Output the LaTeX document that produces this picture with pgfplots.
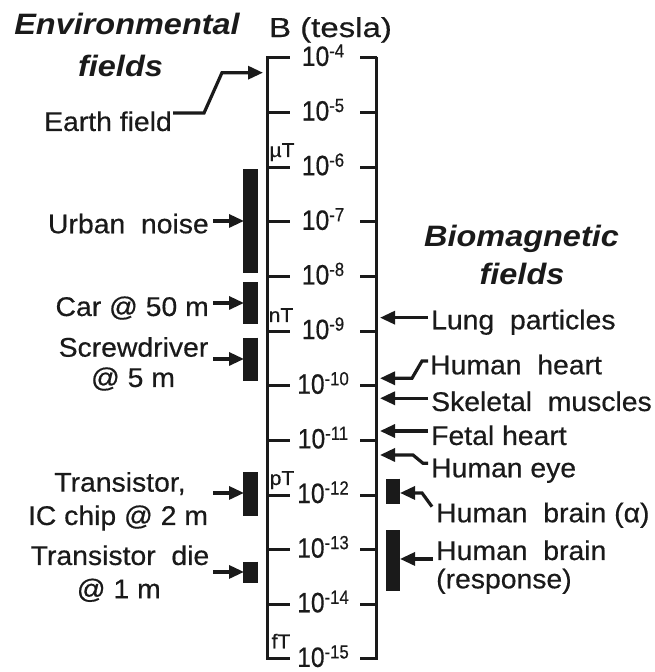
\documentclass[border=0pt]{standalone}
\usepackage{fontspec}
\setmainfont{Liberation Sans}
\newfontfamily\labfont{Liberation Sans}[FakeStretch=1.05, FakeBold=0.5]
\newfontfamily\titfont{Liberation Sans}[FakeStretch=1.1]
\newfontfamily\tickfont{Liberation Sans}[FakeStretch=0.88, FakeBold=0.5]
\newfontfamily\bfont{Liberation Sans}[FakeStretch=1.2, FakeBold=0.5]
\usepackage{pgfplots}
\pgfplotsset{compat=1.18}
\usetikzlibrary{arrows.meta}
\definecolor{ink}{HTML}{1A1A1A}
\tikzset{
  myarr/.style={line width=3.2pt, line join=miter, -{Triangle[length=15pt,width=13pt]}},
  mylab/.style={font=\labfont\fontsize{27}{27}\selectfont, text=ink, inner sep=0pt},
  mytit/.style={font=\titfont\bfseries\itshape\fontsize{29.5}{29.5}\selectfont, text=ink, inner sep=0pt, anchor=base},
  myunit/.style={font=\labfont\fontsize{20}{20}\selectfont, text=ink, inner sep=0pt, anchor=base},
}
\begin{document}
\begin{tikzpicture}
\useasboundingbox (0,0) rectangle (654pt,672pt);
\begin{axis}[at={(0,0)}, anchor=south west, scale only axis, width=654pt, height=672pt,
  xmin=0, xmax=654, ymin=-15.238, ymax=-2.9385, axis lines=none, ticks=none, clip=false,
  every axis plot/.append style={ink},
]
% scale
\addplot[line width=3pt] coordinates {(267,-3.975) (267,-15.025)};
\addplot[line width=3pt] coordinates {(376,-3.975) (376,-15.025)};
\pgfplotsinvokeforeach{-4,-5,-6,-7,-8,-9,-10,-11,-12,-13,-14,-15}{
  \addplot[line width=3pt] coordinates {(266,#1) (290,#1)};
  \addplot[line width=3pt] coordinates {(360,#1) (377,#1)};
  \node[anchor=base, inner sep=0pt, text=ink, font=\tickfont\fontsize{28}{28}\selectfont] at (axis cs:323,#1-0.145) {10\raisebox{8.5pt}{\fontsize{19}{19}\selectfont #1}};
}
% units
\node[myunit] at (axis cs:282,-5.812) {µT};
\node[myunit] at (axis cs:281,-8.832) {nT};
\node[myunit] at (axis cs:282,-11.815) {pT};
\node[myunit] at (axis cs:281,-14.804) {fT};
% environmental bars
\addplot[line width=15pt] coordinates {(250.5,-6.04) (250.5,-7.94)};
\addplot[line width=15pt] coordinates {(250.5,-8.10) (250.5,-8.87)};
\addplot[line width=15pt] coordinates {(250.5,-9.12) (250.5,-9.91)};
\addplot[line width=15pt] coordinates {(250.5,-11.58) (250.5,-12.38)};
\addplot[line width=15pt] coordinates {(250.5,-13.22) (250.5,-13.60)};
% biomagnetic bars
\addplot[line width=14pt] coordinates {(393,-11.70) (393,-12.16)};
\addplot[line width=14pt] coordinates {(393,-12.64) (393,-13.76)};
% left arrows
\addplot[myarr] coordinates {(173,-5.007) (204,-5.007) (222,-4.269) (263,-4.269)};
\addplot[myarr] coordinates {(213,-6.983) (244,-6.983)};
\addplot[myarr] coordinates {(213,-8.484) (244,-8.484)};
\addplot[myarr] coordinates {(213,-9.509) (244,-9.509)};
\addplot[myarr] coordinates {(213,-11.961) (244,-11.961)};
\addplot[myarr] coordinates {(213,-13.407) (244,-13.407)};
% right arrows
\addplot[myarr] coordinates {(428,-8.753) (380,-8.753)};
\addplot[myarr] coordinates {(428,-9.546) (422,-9.546) (412,-9.862) (380,-9.862)};
\addplot[myarr] coordinates {(428,-10.228) (380,-10.228)};
\addplot[myarr] coordinates {(428,-10.827) (380,-10.827)};
\addplot[myarr] coordinates {(428,-11.418) (423,-11.418) (413,-11.266) (380,-11.266)};
\addplot[myarr] coordinates {(432,-12.212) (422,-11.961) (400,-11.961)};
\addplot[myarr] coordinates {(433,-13.169) (400,-13.169)};
% titles
\node[mytit] at (axis cs:127,-3.579) {Environmental};
\node[mytit] at (axis cs:120.5,-4.330) {fields};
\node[mytit] at (axis cs:521.5,-7.453) {Biomagnetic};
\node[mytit] at (axis cs:522,-8.154) {fields};
\node[anchor=base, inner sep=0pt, text=ink, font=\bfont\fontsize{27.5}{27.5}\selectfont] at (axis cs:330.5,-3.616) {B (tesla)};
% left labels
\node[mylab, anchor=base east] at (axis cs:172,-5.336) {Earth field};
\node[mylab, anchor=base east] at (axis cs:209,-7.208) {Urban\ \ noise};
\node[mylab, anchor=base east] at (axis cs:209,-8.722) {Car @ 50 m};
\node[mylab, anchor=base] at (axis cs:133.5,-9.467) {Screwdriver};
\node[mylab, anchor=base] at (axis cs:133,-10.021) {@ 5 m};
\node[mylab, anchor=base] at (axis cs:120,-11.937) {Transistor,};
\node[mylab, anchor=base] at (axis cs:118,-12.547) {IC chip @ 2 m};
\node[mylab, anchor=base] at (axis cs:120,-13.279) {Transistor\ \ die};
\node[mylab, anchor=base] at (axis cs:118.8,-13.888) {@ 1 m};
% right labels
\node[mylab, anchor=base west] at (axis cs:431,-8.965) {Lung\ \ particles};
\node[mylab, anchor=base west] at (axis cs:430,-9.789) {Human\ \ heart};
\node[mylab, anchor=base west] at (axis cs:431,-10.461) {Skeletal\ \ muscles};
\node[mylab, anchor=base west] at (axis cs:431,-11.083) {Fetal heart};
\node[mylab, anchor=base west] at (axis cs:431,-11.674) {Human eye};
\node[mylab, anchor=base west] at (axis cs:436,-12.497) {Human\ \ brain (α)};
\node[mylab, anchor=base west] at (axis cs:436,-13.188) {Human\ \ brain};
\node[mylab, anchor=base west] at (axis cs:436,-13.706) {(response)};
\end{axis}
\end{tikzpicture}
\end{document}
